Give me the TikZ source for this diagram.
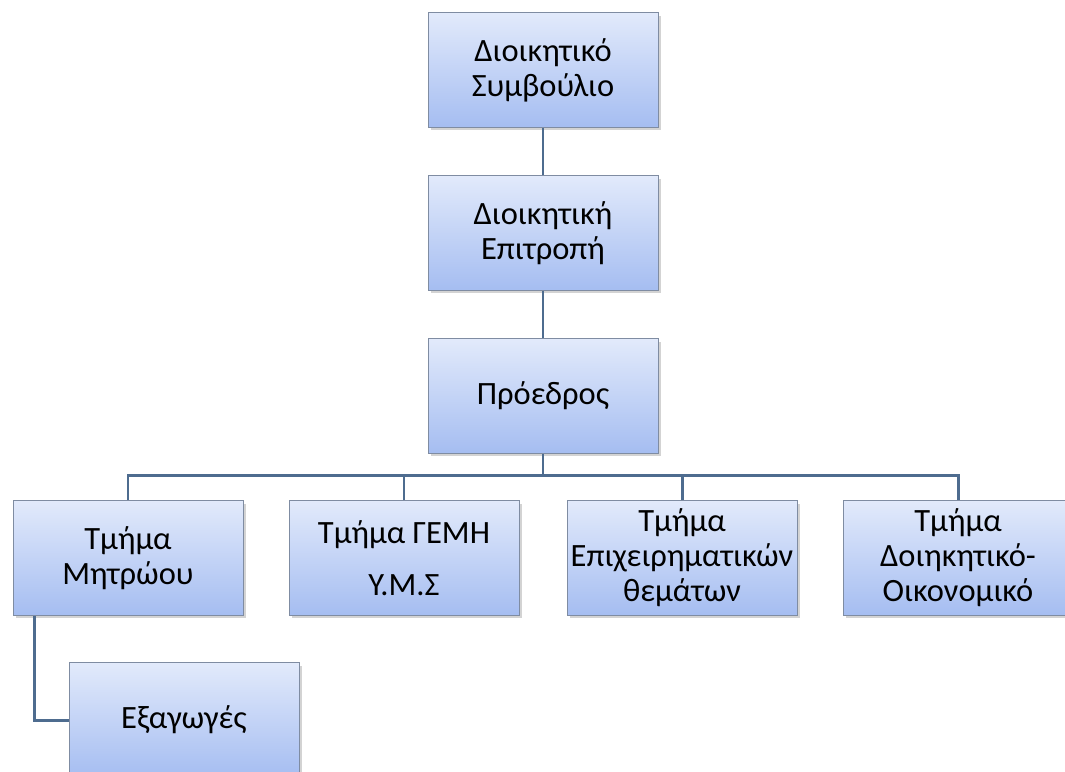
\documentclass[tikz,border=0pt]{standalone}
\usepackage{fontspec}
\setmainfont{Carlito}
\usepackage{xcolor}
\usetikzlibrary{shadows}
\definecolor{boxtop}{HTML}{E2EAFB}
\definecolor{boxbottom}{HTML}{A5BDF1}
\definecolor{boxline}{HTML}{7F8CA2}
\definecolor{linkcol}{HTML}{4E6C8F}
\tikzset{
    orgbox/.style = {rectangle, draw=boxline, thin, top color=boxtop, bottom color=boxbottom,
        minimum width=4.6cm, minimum height=2.3cm, align=center, inner sep=0pt,
        font=\fontsize{18.5}{20}\selectfont,
        drop shadow={shadow xshift=0.06cm, shadow yshift=-0.06cm, opacity=0.35}},
    link/.style = {draw=linkcol, line width=1.7pt}
}

\begin{document}
\begin{tikzpicture}[x=0.02cm, y=-0.02cm]
    \useasboundingbox (0,0) rectangle (1065,771);
    \clip (0,0) rectangle (1065,771);

    % top of the chart
    \node [orgbox] (board) at (543,70) {Διοικητικό\\Συμβούλιο};
    \node [orgbox] (committee) at (543,233) {Διοικητική\\Επιτροπή};
    \node [orgbox] (president) at (543,396) {Πρόεδρος};

    % departments
    \node [orgbox] (registry) at (128,558) {Τμήμα\\Μητρώου};
    \node [orgbox] (gemi) at (404,558) {Τμήμα ΓΕΜΗ\\[0.35cm]Υ.Μ.Σ};
    \node [orgbox] (business) at (682,558) {Τμήμα\\Επιχειρηματικών\\θεμάτων};
    \node [orgbox] (admin) at (958,558) {Τμήμα\\Δοιηκητικό-\\Οικονομικό};
    \node [orgbox] (exports) at (184,720) {Εξαγωγές};

    % connectors
    \draw [link] (board.south) -- (committee.north);
    \draw [link] (committee.south) -- (president.north);
    \draw [link] (president.south) -- ++(0,22) coordinate (bus);
    \foreach \dept in {registry, gemi, business, admin}
        \draw [link] (\dept.north) |- (bus);
    \draw [link] ([xshift=0.44cm]registry.south west) |- (exports.west);
\end{tikzpicture}
\end{document}
